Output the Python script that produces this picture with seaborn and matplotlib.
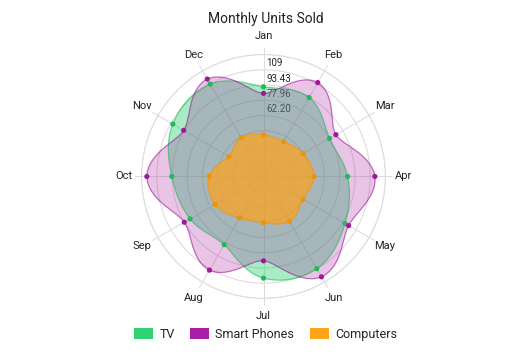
import numpy as np
import seaborn as sns
import matplotlib.pyplot as plt
import pandas as pd
from matplotlib.patches import Patch

months = ["Jan", "Feb", "Mar", "Apr", "May", "Jun",
          "Jul", "Aug", "Sep", "Oct", "Nov", "Dec"]
tv = [91.6, 93.2, 77.8, 85.9, 96.2, 108.8, 103.9, 80.5, 86.7, 93.7, 107.0, 109.0]
phones = [84.9, 110.8, 85.4, 113.8, 100.4, 118.4, 86.2, 110.5, 93.5, 119.2, 94.2, 114.9]
computers = [42.7, 41.2, 46.8, 51.5, 46.6, 53.0, 47.1, 49.0, 57.2, 55.6, 40.7, 45.9]
series_names = ["TV", "Smart Phones", "Computers"]
colors = ["#2ed26e", "#aa1ea5", "#ffa31a"]
edge_colors = ["#22b85c", "#9c1a98", "#f0920a"]
fill_alpha = [0.42, 0.26, 0.7]
ring_labels = ["62.20", "77.96", "93.43", "109"]
ring_step = 15.575
r_max = 8 * ring_step


def smooth_polar(theta, r, n=40):
    # periodic catmull-rom spline of r against theta
    k = len(r)
    step = 2 * np.pi / k
    ths, rs = [], []
    t = np.linspace(0, 1, n, endpoint=False)
    for i in range(k):
        p0, p1, p2, p3 = r[i - 1], r[i], r[(i + 1) % k], r[(i + 2) % k]
        seg = 0.5 * ((2 * p1) + (-p0 + p2) * t
                     + (2 * p0 - 5 * p1 + 4 * p2 - p3) * t ** 2
                     + (-p0 + 3 * p1 - 3 * p2 + p3) * t ** 3)
        ths.append(theta[i] + t * step)
        rs.append(seg)
    ths = np.concatenate(ths + [[theta[0] + 2 * np.pi]])
    rs = np.concatenate(rs + [[r[0]]])
    return ths, rs


sns.set_theme(style="white")
plt.rcParams["font.family"] = ["Roboto", "DejaVu Sans"]

angles = np.linspace(0, 2 * np.pi, len(months), endpoint=False)
df = pd.DataFrame({
    "theta": np.tile(angles, 3),
    "value": tv + phones + computers,
    "series": np.repeat(series_names, len(months)),
})

fig = plt.figure(figsize=(5.31, 3.54), dpi=100)
ax = fig.add_axes([0.2665, 0.157, 0.4595, 0.689], projection="polar")
ax.set_theta_zero_location("N")
ax.set_theta_direction(-1)
ax.set_ylim(0, r_max)

# grid
ax.set_xticks(angles)
ax.set_xticklabels(months, fontsize=8, color="#222222")
ax.tick_params(axis="x", pad=0)
ax.set_yticks([ring_step * i for i in range(1, 9)])
ax.set_yticklabels([])
ax.grid(color="#dddddd", linewidth=0.8)
ax.spines["polar"].set_color("#dddddd")
ax.spines["polar"].set_linewidth(0.8)
for a in angles:
    ax.plot([a, a], [r_max, r_max * 1.05], color="#dddddd", linewidth=0.8,
            clip_on=False, zorder=1)

# ring labels (under the fills)
for i, lab in enumerate(ring_labels):
    ax.annotate(lab, xy=(0, ring_step * (i + 4)), xytext=(2, 1),
                textcoords="offset points", ha="left", va="bottom",
                fontsize=7, color="#222222", zorder=1)

for name, col, ec, a in zip(series_names, colors, edge_colors, fill_alpha):
    sub = df[df["series"] == name]
    th, rr = smooth_polar(sub["theta"].values, sub["value"].values)
    ax.fill(th, rr, color=col, alpha=a, zorder=2, linewidth=0)
    ax.plot(th, rr, color=ec, linewidth=0.9, alpha=0.6, zorder=3)

sns.scatterplot(data=df, x="theta", y="value", hue="series",
                palette=dict(zip(series_names, edge_colors)), s=14,
                edgecolor="none", legend=False, ax=ax, zorder=4)
ax.set_xlabel("")
ax.set_ylabel("")

fig.suptitle("Monthly Units Sold", y=0.965, fontsize=10, color="#222222")

handles = [Patch(facecolor=c, edgecolor="none", label=n)
           for n, c in zip(series_names, colors)]
fig.legend(handles=handles, loc="lower center", ncol=3, frameon=False,
           bbox_to_anchor=(0.5, 0.006), fontsize=9, handlelength=1.5,
           handleheight=1.0, columnspacing=1.25, handletextpad=0.5)

fig.savefig("out.png", dpi=100)
